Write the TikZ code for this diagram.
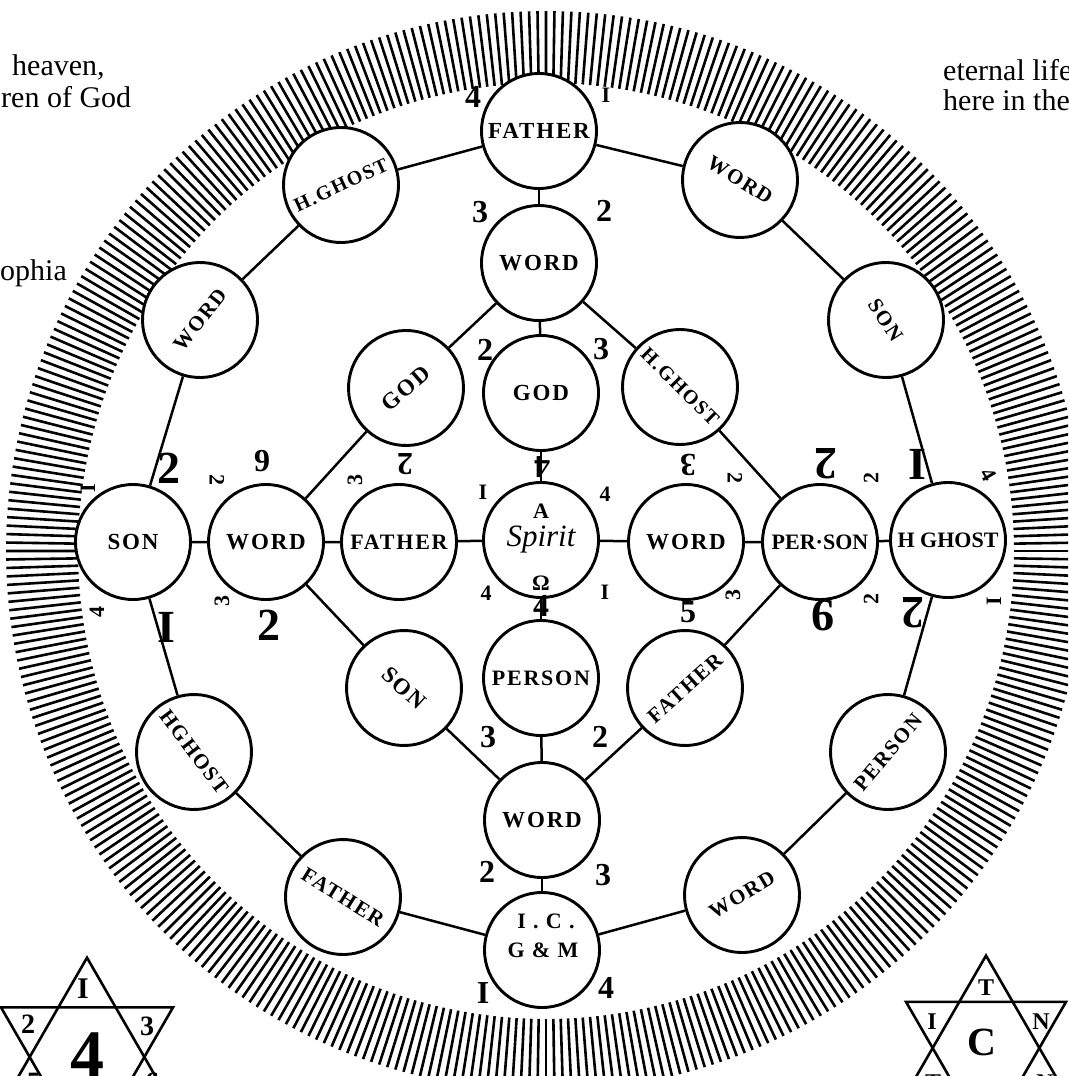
\documentclass[tikz,border=0pt]{standalone}
\usepackage{fontspec}
\setmainfont{Liberation Serif}
\newfontfamily\labfont[LetterSpace=8]{Liberation Serif}
\usetikzlibrary{calc}
\begin{document}
\begin{tikzpicture}[x=1pt,y=-1pt,
  cn/.style={circle, draw, fill=white, line width=2.9pt, minimum size=115pt, inner sep=0pt,
    font=\labfont\bfseries\fontsize{23}{23}\selectfont},
  lbl/.style={font=\labfont\bfseries\fontsize{22}{22}\selectfont, inner sep=0pt},
  num/.style={font=\bfseries\fontsize{32}{32}\selectfont, inner sep=0pt},
  bignum/.style={font=\bfseries\fontsize{46}{46}\selectfont, inner sep=0pt},
  smallnum/.style={font=\bfseries\fontsize{22}{22}\selectfont, inner sep=0pt},
  link/.style={line width=2.5pt},
  hatch/.style={line width=2.6pt},
  ctext/.style={anchor=base west, font=\fontsize{30}{30}\selectfont, inner sep=0pt},
  starline/.style={line width=2.6pt, line join=miter}
]
\useasboundingbox (0,0) rectangle (1068,1076);
\clip (0,0) rectangle (1068,1076);
\fill[white] (0,0) rectangle (1068,1076);

% hatched ring
\coordinate (hc) at (546,551);
\foreach \a in {0,0.9,...,359.2}{
  \draw[hatch] ($(hc)+(\a:468)$) -- ($(hc)+(\a:540)$);
}

% outer ring nodes
\node[cn] (o1) at (539,131) {FATHER};
\node[cn, font=\labfont\bfseries\fontsize{21}{21}\selectfont, rotate=-32] (o2) at (740,180) {WORD};
\node[cn, font=\labfont\bfseries\fontsize{21}{21}\selectfont, rotate=-57] (o3) at (886,320) {SON};
\node[cn, font=\bfseries\fontsize{22}{22}\selectfont] (o4) at (948,540) {H GHOST};
\node[cn, font=\labfont\bfseries\fontsize{21}{21}\selectfont, rotate=50] (o5) at (888,752) {PERSON};
\node[cn, font=\labfont\bfseries\fontsize{21}{21}\selectfont, rotate=31] (o6) at (742,895) {WORD};
\node[cn] (o7) at (542,950) {};
\node[cn, font=\labfont\bfseries\fontsize{21}{21}\selectfont, rotate=-32] (o8) at (343,897) {FATHER};
\node[cn, font=\labfont\bfseries\fontsize{21}{21}\selectfont, rotate=-53] (o9) at (194,752) {HGHOST};
\node[cn] (o10) at (133,542) {SON};
\node[cn, font=\labfont\bfseries\fontsize{21}{21}\selectfont, rotate=52] (o11) at (200,320) {WORD};
\node[cn, font=\labfont\bfseries\fontsize{20}{20}\selectfont, rotate=25] (o12) at (341,185) {H.GHOST};

\node[lbl] (ic1) at (546,921) {I . C .};
\node[lbl] (ic2) at (543,950) {G \& M};

% inner nodes
\node[cn] (wt) at (539,263) {WORD};
\node[cn, rotate=41] (gl) at (406,388) {GOD};
\node[cn] (gm) at (541,393) {GOD};
\node[cn, font=\labfont\bfseries\fontsize{20}{20}\selectfont, rotate=-45] (hg) at (680,387) {H.GHOST};
\node[cn] (wl) at (266,542) {WORD};
\node[cn, font=\labfont\bfseries\fontsize{22}{22}\selectfont] (fm) at (399,542) {FATHER};
\node[cn, font=\itshape\fontsize{31}{31}\selectfont] (sp) at (541,540) {Spirit};
\node[cn] (wr) at (686,542) {WORD};
\node[cn, font=\bfseries\fontsize{22}{22}\selectfont] (pr) at (820,542) {PER·SON};
\node[cn, rotate=-42] (sl) at (404,688) {SON};
\node[cn, font=\labfont\bfseries\fontsize{22}{22}\selectfont] (pl) at (541,678) {PERSON};
\node[cn, font=\labfont\bfseries\fontsize{21}{21}\selectfont, rotate=42] (fl) at (685,688) {FATHER};
\node[cn] (wb) at (542,820) {WORD};

% connectors: outer ring
\draw[link] (o1) -- (o2) -- (o3) -- (o4) -- (o5) -- (o6) -- (o7) -- (o8) -- (o9) -- (o10) -- (o11) -- (o12) -- (o1);
% inner connectors
\draw[link] (o1) -- (wt);
\draw[link] (wt) -- (gl);
\draw[link] (wt) -- (gm);
\draw[link] (wt) -- (hg);
\draw[link] (gl) -- (wl);
\draw[link] (hg) -- (pr);
\draw[link] (o10) -- (wl) -- (fm) -- (sp) -- (wr) -- (pr) -- (o4);
\draw[link] (gm) -- (sp) -- (pl);
\draw[link] (wl) -- (sl);
\draw[link] (pr) -- (fl);
\draw[link] (sl) -- (wb);
\draw[link] (pl) -- (wb);
\draw[link] (fl) -- (wb);
\draw[link] (wb) -- (o7);

% numbers
\node[num] (n1) at (473,97) {4};
\node[smallnum] (n2) at (606,95) {I};
\node[num] (n3) at (480,212) {3};
\node[num] (n4) at (604,211) {2};
\node[num] (n5) at (485,350) {2};
\node[num] (n6) at (601,349) {3};
\node[smallnum, rotate=90] (n7) at (88,488) {I};
\node[bignum] (n8) at (169,468) {2};
\node[smallnum, rotate=-90] (n9) at (217,480) {2};
\node[num] (n10) at (262,461) {9};
\node[smallnum, rotate=90] (n11) at (222,601) {3};
\node[bignum] (n12) at (269,625) {2};
\node[smallnum, rotate=90] (n13) at (97,612) {4};
\node[bignum] (n14) at (166,627) {I};
\node[smallnum, rotate=90] (n15) at (355,480) {3};
\node[num, rotate=180] (n16) at (405,464) {2};
\node[smallnum] (n17) at (483,492) {I};
\node[num, rotate=180] (n18) at (542,467) {4};
\node[smallnum] (n19) at (605,494) {4};
\node[smallnum] (n20) at (541,511) {A};
\node[smallnum] (n22) at (541,583) {Ω};
\node[num] (n23) at (541,606) {4};
\node[smallnum] (n24) at (486,593) {4};
\node[smallnum] (n25) at (605,592) {I};
\node[num, rotate=180] (n26) at (688,465) {3};
\node[smallnum, rotate=-90] (n27) at (735,478) {2};
\node[num] (n28) at (688,612) {5};
\node[smallnum, rotate=90] (n29) at (733,595) {3};
\node[bignum, rotate=180] (n30) at (826,464) {2};
\node[smallnum, rotate=90] (n31) at (871,478) {2};
\node[bignum] (n32) at (917,464) {I};
\node[smallnum, rotate=-60] (n33) at (989,475) {4};
\node[bignum, rotate=180] (n34) at (823,615) {9};
\node[smallnum, rotate=90] (n35) at (871,599) {2};
\node[bignum, rotate=180] (n36) at (913,613) {2};
\node[smallnum, rotate=90] (n37) at (994,601) {I};
\node[num] (n38) at (488,737) {3};
\node[num] (n39) at (600,737) {2};
\node[num] (n40) at (487,872) {2};
\node[num] (n41) at (603,875) {3};
\node[num] (n42) at (483,993) {I};
\node[num] (n43) at (606,988) {4};

% corner text
\node[ctext] (t1) at (12,75) {heaven,};
\node[ctext] (t2) at (1,107) {ren of God};
\node[ctext] (t3) at (0,280) {ophia};
\node[ctext] (t4) at (943,80) {eternal life};
\node[ctext] (t5) at (943,110) {here in the};

% left star
\coordinate (lsc) at (87,1057);
\draw[starline] ($(lsc)+(270:99.3)$) -- ($(lsc)+(30:99.3)$) -- ($(lsc)+(150:99.3)$) -- cycle;
\draw[starline] ($(lsc)+(90:99.3)$) -- ($(lsc)+(210:99.3)$) -- ($(lsc)+(330:99.3)$) -- cycle;
\node[num, font=\bfseries\fontsize{30}{30}\selectfont] (s1) at (83,989) {I};
\node[num, font=\bfseries\fontsize{28}{28}\selectfont] (s2) at (28,1024) {2};
\node[num, font=\bfseries\fontsize{28}{28}\selectfont] (s3) at (147,1026) {3};
\node[num, font=\bfseries\fontsize{68}{68}\selectfont] (s4) at (87,1055) {4};
\node[num, font=\bfseries\fontsize{28}{28}\selectfont] (s5) at (34,1082) {5};
\node[num, font=\bfseries\fontsize{28}{28}\selectfont] (s6) at (152,1082) {6};

% right star
\coordinate (rsc) at (986,1048);
\draw[starline] ($(rsc)+(270:92.4)$) -- ($(rsc)+(30:92.4)$) -- ($(rsc)+(150:92.4)$) -- cycle;
\draw[starline] ($(rsc)+(90:92.4)$) -- ($(rsc)+(210:92.4)$) -- ($(rsc)+(330:92.4)$) -- cycle;
\node[num, font=\bfseries\fontsize{24}{24}\selectfont] (r1) at (986,988) {T};
\node[num, font=\bfseries\fontsize{24}{24}\selectfont] (r2) at (932,1022) {I};
\node[num, font=\bfseries\fontsize{24}{24}\selectfont] (r3) at (1041,1022) {N};
\node[num, font=\bfseries\fontsize{40}{40}\selectfont] (r4) at (982,1042) {C};
\node[num, font=\bfseries\fontsize{24}{24}\selectfont] (r5) at (933,1083) {T};
\node[num, font=\bfseries\fontsize{24}{24}\selectfont] (r6) at (1045,1083) {N};
\end{tikzpicture}
\end{document}
